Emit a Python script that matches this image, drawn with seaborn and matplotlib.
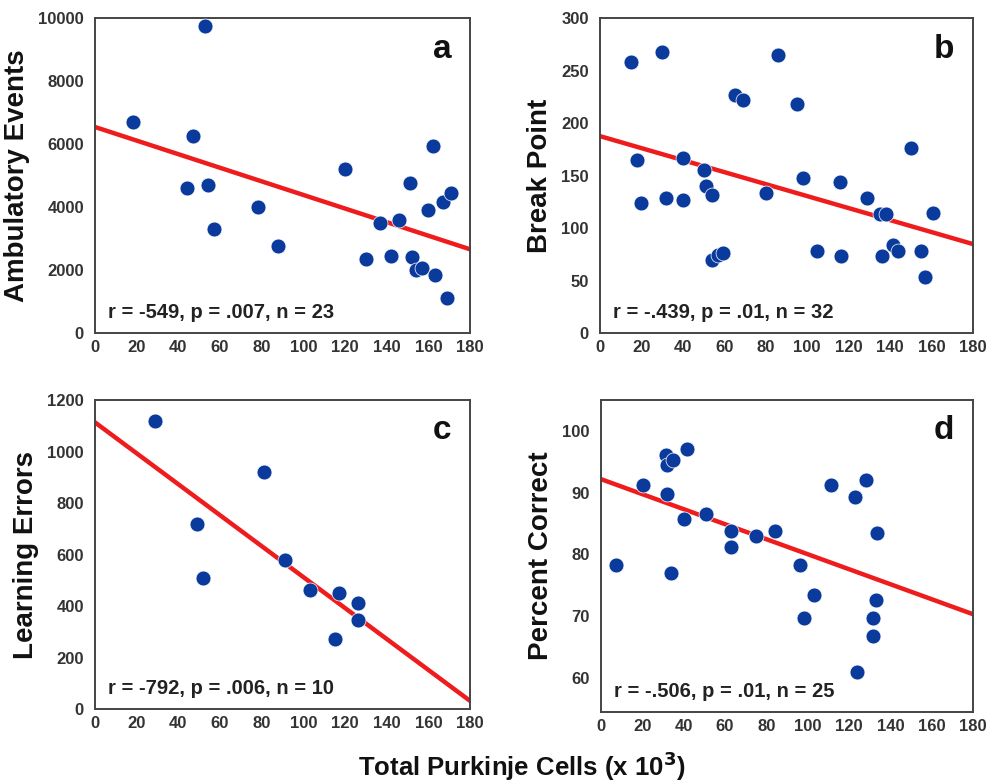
import matplotlib
matplotlib.use("Agg")
import matplotlib.pyplot as plt
import seaborn as sns
import pandas as pd

# Panel a: ambulatory events
cells_a = [53, 18, 47, 44, 54, 57, 78, 88, 120, 130, 137, 142, 146, 151, 152,
           154, 157, 162, 160, 163, 167, 171, 169]
ambulatory = [9750, 6700, 6250, 4600, 4700, 3300, 4000, 2750, 5200, 2350, 3500,
              2450, 3600, 4750, 2400, 2000, 2050, 5950, 3900, 1850, 4150, 4450, 1100]

# Panel b: break point
cells_b = [15, 30, 86, 65, 69, 95, 18, 40, 50, 20, 32, 40, 51, 54, 54, 57, 59.5,
           80, 98, 104.5, 116, 116.5, 129, 135, 138, 136, 141.5, 144, 150, 155,
           160.5, 157]
break_point = [258, 268, 265, 227, 222, 218, 165, 167, 155, 124, 129, 127, 140,
               131, 70, 74, 76, 133, 148, 78, 144, 73, 129, 113, 113, 73, 84, 78,
               176, 78, 114, 53]

# Panel c: learning errors
cells_c = [29, 81, 49, 52, 91, 103, 117, 115, 126, 126]
errors = [1120, 920, 720, 510, 577, 463, 450, 270, 413, 347]

# Panel d: percent correct
cells_d = [7, 20.5, 31.5, 32, 35, 41.5, 32, 40, 34, 51, 63, 63, 75, 84, 96.5, 98,
           103, 111.5, 123, 128, 124, 133.5, 133, 131.5, 131.5]
pct_correct = [78.3, 91.3, 96, 94.5, 95.3, 97, 89.8, 85.8, 77, 86.6, 83.8, 81.2,
               83, 83.8, 78.3, 69.7, 73.5, 91.3, 89.3, 92, 61, 83.4, 72.6, 69.8, 66.8]

x_ticks = [0, 20, 40, 60, 80, 100, 120, 140, 160, 180]

panels = [
    ("a", cells_a, ambulatory, "Ambulatory Events", (0, 10000), [0, 2000, 4000, 6000, 8000, 10000],
     "r = -549, p = .007, n = 23", [0.0959, 0.5747, 0.3784, 0.4023]),
    ("b", cells_b, break_point, "Break Point", (0, 300), [0, 50, 100, 150, 200, 250, 300],
     "r = -.439, p = .01, n = 32", [0.6054, 0.5747, 0.3764, 0.4023]),
    ("c", cells_c, errors, "Learning Errors", (0, 1200), [0, 200, 400, 600, 800, 1000, 1200],
     "r = -792, p = .006, n = 10", [0.0959, 0.0945, 0.3784, 0.3946]),
    ("d", cells_d, pct_correct, "Percent Correct", (54.6, 105), [60, 70, 80, 90, 100],
     "r = -.506, p = .01, n = 25", [0.6065, 0.0910, 0.3754, 0.3985]),
]

sns.set_style("white")
plt.rcParams['font.family'] = ['Liberation Sans', 'DejaVu Sans']
plt.rcParams['font.weight'] = 'bold'

fig = plt.figure(figsize=(9.91, 7.83), dpi=100)

for letter, xs, ys, ylabel, ylim, yticks, stats, rect in panels:
    ax = fig.add_axes(rect)
    df = pd.DataFrame({"cells": xs, "value": ys})
    ax.set_xlim(0, 180)
    ax.set_ylim(*ylim)
    sns.regplot(data=df, x="cells", y="value", ax=ax, scatter=False, ci=None,
                truncate=False, line_kws={"color": "#ee1c1c", "lw": 3.2, "zorder": 2})
    sns.scatterplot(data=df, x="cells", y="value", ax=ax, s=115, color="#0a3a9c",
                    edgecolor="white", linewidth=0.5, zorder=3, clip_on=False)
    ax.set_xlim(0, 180)
    ax.set_ylim(*ylim)
    ax.set_xticks(x_ticks)
    ax.set_yticks(yticks)
    ax.tick_params(axis="x", direction="inout", length=8, width=1.3, colors="#333333",
                   labelsize=12, pad=1)
    ax.tick_params(axis="y", direction="out", length=5, width=1.3, colors="#333333",
                   labelsize=12, pad=3)
    for lab in ax.get_xticklabels() + ax.get_yticklabels():
        lab.set_fontweight("bold")
    for sp in ax.spines.values():
        sp.set_visible(True)
        sp.set_color("#444444")
        sp.set_linewidth(1.4)
    ax.set_xlabel("")
    ax.set_ylabel(ylabel, fontsize=20, fontweight="bold", color="#111111", labelpad=6)
    ax.text(0.95, 0.95, letter, transform=ax.transAxes, ha="right", va="top",
            fontsize=24, fontweight="bold", color="#111111")
    ax.text(0.035, 0.035, stats, transform=ax.transAxes, ha="left", va="bottom",
            fontsize=14.5, fontweight="bold", color="#222222")

fig.text(0.527, 0.009, "Total Purkinje Cells (x 10$^{\\mathbf{3}}$)", ha="center", va="baseline",
         fontsize=18.5, fontweight="bold", color="#111111")

fig.savefig("out.png", dpi=100)
